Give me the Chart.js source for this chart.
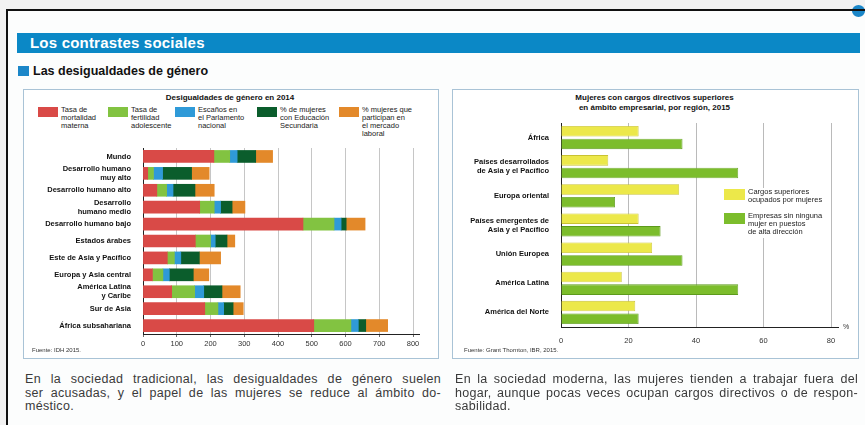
<!DOCTYPE html>
<html lang="es">
<head>
<meta charset="utf-8">
<title>Los contrastes sociales</title>
<script src="https://cdn.jsdelivr.net/npm/chart.js@4/dist/chart.umd.min.js"></script>
<style>
  html, body { margin: 0; padding: 0; }
  body { width: 865px; height: 425px; background: #f2f2f2; position: relative; overflow: hidden;
         font-family: "Liberation Sans", Arial, sans-serif; }
  .page { position: absolute; left: 6px; top: 9px; width: 900px; height: 440px; background: #fcfdfd; }
  .frame { position: absolute; left: 6px; top: 9px; width: 900px; height: 440px; border: 2px solid #111; z-index: 5; }
  .dot { position: absolute; left: 852px; top: 5px; width: 13px; height: 12px; border-radius: 50%; background: #1b86c8; }
  .banner { position: absolute; left: 17px; top: 33px; width: 843px; height: 20px; background: #0b88c6; }
  .banner span { position: absolute; left: 13px; top: 1px; color: #fff; font-size: 15px; font-weight: bold;
                 font-family: "Liberation Sans Narrow", "Liberation Sans", sans-serif; letter-spacing: 0.2px; }
  .sub { position: absolute; left: 18px; top: 64px; font-size: 12.5px; font-weight: bold; color: #111; }
  .sub i { display: inline-block; width: 11px; height: 10px; background: #1b86c8; margin-right: 4px; vertical-align: -1px; }
  .box { position: absolute; top: 89px; height: 268px; border: 1px solid #a9c3d6; background: #fff; }
  .chart { position: absolute; }
  .title { position: absolute; font-size: 8px; font-weight: bold; color: #111; text-align: center; line-height: 10px; }
  .leg { position: absolute; font-size: 7.5px; line-height: 8px; color: #222; }
  .leg i { position: absolute; left: 0; top: 1px; }
  .leg span { position: absolute; white-space: nowrap; }
  .src { position: absolute; font-size: 6px; color: #333; }
  .txt { position: absolute; top: 373px; font-size: 12.5px; line-height: 13.5px; color: #3a3a3a; letter-spacing: 0.3px; }
  .txt span { display: block; text-align: justify; text-align-last: justify; white-space: nowrap; }
  .txt span.last { text-align-last: left; }
</style>
</head>
<body>
<div class="page"></div>
<div class="dot"></div>
<div class="frame"></div>
<div class="banner"><span>Los contrastes sociales</span></div>
<div class="sub"><i></i>Las desigualdades de género</div>

<div class="box" style="left:23px; width:414px;"></div>
<div class="box" style="left:452px; width:405px;"></div>

<div class="title" style="left:23px; width:414px; top:93px;">Desigualdades de género en 2014</div>
<div id="legLeft"></div>
<div class="chart" style="left:24px; top:138px; width:413px; height:220px;"><canvas id="gender"></canvas></div>
<div class="src" style="left:32px; top:347px;">Fuente: IDH 2015.</div>

<div class="title" style="left:452px; width:405px; top:93px;">Mujeres con cargos directivos superiores<br>en ámbito empresarial, por región, 2015</div>
<div class="chart" style="left:453px; top:112px; width:404px; height:246px;"><canvas id="business"></canvas></div>
<div id="legRight"></div>
<div class="src" style="left:464px; top:347px;">Fuente: Grant Thornton, IBR, 2015.</div>
<div class="src" style="left:843px; top:323px; font-size:7px;">%</div>

<div class="txt" style="left:25px; width:416px;">
  <span>En la sociedad tradicional, las desigualdades de género suelen</span>
  <span>ser acusadas, y el papel de las mujeres se reduce al ámbito do-</span>
  <span class="last">méstico.</span>
</div>
<div class="txt" style="left:455px; width:403px;">
  <span>En la sociedad moderna, las mujeres tienden a trabajar fuera del</span>
  <span>hogar, aunque pocas veces ocupan cargos directivos o de respon-</span>
  <span class="last">sabilidad.</span>
</div>

<script>
// Datos: Desigualdades de género en 2014 (IDH 2015)
const regions = [
  'Mundo',
  ['Desarrollo humano', 'muy alto'],
  'Desarrollo humano alto',
  ['Desarrollo', 'humano medio'],
  'Desarrollo humano bajo',
  'Estados árabes',
  'Este de Asia y Pacífico',
  'Europa y Asia central',
  ['América Latina', 'y Caribe'],
  'Sur de Asia',
  'África subsahariana'
];
const maternalMortality  = [210, 14, 41, 168, 474, 155, 72, 28, 85, 183, 506];
const adolescentFertility = [47, 17, 29, 43, 92, 45, 21, 31, 68, 39, 110];
const parliamentSeats    = [22, 27, 19, 19, 21, 14, 19, 19, 27, 17, 22];
const secondaryEducation = [55, 86, 65, 34, 15, 35, 55, 71, 54, 28, 22];
const labourMarket       = [50, 52, 57, 38, 56, 23, 63, 46, 54, 30, 65];
const genderTicks = [0, 100, 200, 300, 400, 500, 600, 700, 800];

const genderLabels = [
  ['Tasa de', 'mortalidad', 'materna'],
  ['Tasa de', 'fertilidad', 'adolescente'],
  ['Escaños en', 'el Parlamento', 'nacional'],
  ['% de mujeres', 'con Educación', 'Secundaria'],
  ['% mujeres que', 'participan en', 'el mercado', 'laboral']
];

// Datos: Mujeres con cargos directivos (Grant Thornton, IBR 2015)
const businessRegions = [
  'África',
  ['Países desarrollados', 'de Asia y el Pacífico'],
  'Europa oriental',
  ['Países emergentes de', 'Asia y el Pacífico'],
  'Unión Europea',
  'América Latina',
  'América del Norte'
];
const seniorRoles = [23, 14, 35, 23, 27, 18, 22];
const noWomenFirms = [36, 52.5, 16, 29.5, 36, 52.5, 23];
const businessTicks = [0, 20, 40, 60, 80];
const businessLabels = [
  ['Cargos superiores', 'ocupados por mujeres'],
  ['Empresas sin ninguna', 'mujer en puestos', 'de alta dirección']
];

const COLORS = {
  red:    '#d94a47',
  lime:   '#82c341',
  blue:   '#2f9ad8',
  dark:   '#0b5d2c',
  orange: '#e3892a',
  yellow: '#ece84a',
  green:  '#7cbd2c'
};
const FONT = "'Liberation Sans', Arial, sans-serif";

// Prolonga la línea del eje X un poco a la derecha
const axisTail = {
  id: 'axisTail',
  afterDraw(chart, args, opts) {
    const { ctx, chartArea } = chart;
    ctx.save();
    ctx.strokeStyle = '#222';
    ctx.lineWidth = 1;
    ctx.beginPath();
    ctx.moveTo(chartArea.right, chartArea.bottom + 0.5);
    ctx.lineTo(chartArea.right + opts.length, chartArea.bottom + 0.5);
    ctx.stroke();
    ctx.restore();
  }
};

function makeLegend(id, labels, colors, positions) {
  const el = document.getElementById(id);
  labels.forEach((lines, i) => {
    const p = positions[i];
    const d = document.createElement('div');
    d.className = 'leg';
    d.style.left = p.x + 'px';
    d.style.top = p.y + 'px';
    d.innerHTML = '<i style="background:' + colors[i] + ';width:' + p.w + 'px;height:' + p.h + 'px"></i>' +
      '<span style="left:' + (p.w + 3) + 'px;top:0">' + lines.join('<br>') + '</span>';
    el.appendChild(d);
  });
}

makeLegend('legLeft', genderLabels,
  [COLORS.red, COLORS.lime, COLORS.blue, COLORS.dark, COLORS.orange],
  [{ x: 38, y: 106, w: 20, h: 10 }, { x: 108, y: 106, w: 20, h: 10 }, { x: 175, y: 106, w: 20, h: 10 },
   { x: 257, y: 106, w: 20, h: 10 }, { x: 339, y: 106, w: 20, h: 10 }]);

const tickFont = { family: FONT, size: 7.5 };
const catFont = { family: FONT, size: 7.5, weight: 'bold' };

new Chart(document.getElementById('gender'), {
  type: 'bar',
  data: {
    labels: regions,
    datasets: [
      { label: 'Tasa de mortalidad materna', data: maternalMortality, backgroundColor: COLORS.red },
      { label: 'Tasa de fertilidad adolescente', data: adolescentFertility, backgroundColor: COLORS.lime },
      { label: 'Escaños en el Parlamento nacional', data: parliamentSeats, backgroundColor: COLORS.blue },
      { label: '% de mujeres con Educación Secundaria', data: secondaryEducation, backgroundColor: COLORS.dark },
      { label: '% mujeres que participan en el mercado laboral', data: labourMarket, backgroundColor: COLORS.orange }
    ]
  },
  options: {
    indexAxis: 'y',
    responsive: true,
    maintainAspectRatio: false,
    animation: false,
    layout: { padding: { top: 10, right: 24, bottom: 4, left: 0 } },
    datasets: { bar: { barThickness: 12, borderWidth: 0 } },
    plugins: { legend: { display: false }, tooltip: { enabled: false }, axisTail: { length: 7 } },
    scales: {
      x: {
        stacked: true,
        min: 0, max: 800,
        afterBuildTicks: ax => { ax.ticks = genderTicks.map(v => ({ value: v })); },
        afterFit: ax => { ax.height = 20; },
        ticks: { color: '#333', font: tickFont, padding: 2 },
        grid: { color: '#b8b8b8', lineWidth: 0.8, tickLength: 3, tickColor: '#444' },
        border: { color: '#222', width: 1 }
      },
      y: {
        stacked: true,
        afterFit: ax => { ax.width = 119; },
        ticks: { color: '#111', font: catFont, padding: 4, autoSkip: false },
        grid: { display: false },
        border: { color: '#222', width: 1 }
      }
    }
  },
  plugins: [axisTail]
});

new Chart(document.getElementById('business'), {
  type: 'bar',
  data: {
    labels: businessRegions,
    datasets: [
      { label: 'Cargos superiores ocupados por mujeres', data: seniorRoles,
        backgroundColor: COLORS.yellow, borderColor: '#c9c232', borderWidth: 0.8 },
      { label: 'Empresas sin ninguna mujer en puestos de alta dirección', data: noWomenFirms,
        backgroundColor: COLORS.green, borderColor: '#5c9a1c', borderWidth: 0.8 }
    ]
  },
  options: {
    indexAxis: 'y',
    responsive: true,
    maintainAspectRatio: false,
    animation: false,
    layout: { padding: { top: 11, right: 26, bottom: 11, left: 0 } },
    datasets: { bar: { categoryPercentage: 0.87, barPercentage: 0.83 } },
    plugins: { legend: { display: false }, tooltip: { enabled: false }, axisTail: { length: 8 } },
    scales: {
      x: {
        min: 0, max: 80,
        afterBuildTicks: ax => { ax.ticks = businessTicks.map(v => ({ value: v })); },
        afterFit: ax => { ax.height = 20; },
        ticks: { color: '#333', font: tickFont, padding: 9 },
        grid: { color: '#a8a8a8', lineWidth: 0.8, drawTicks: false },
        border: { color: '#222', width: 1 }
      },
      y: {
        afterFit: ax => { ax.width = 108; },
        ticks: { color: '#111', font: catFont, padding: 4, autoSkip: false },
        grid: { display: false },
        border: { color: '#222', width: 1 }
      }
    }
  },
  plugins: [axisTail]
});

makeLegend('legRight', businessLabels, [COLORS.yellow, COLORS.green],
  [{ x: 724, y: 188, w: 21, h: 11 }, { x: 724, y: 212, w: 21, h: 11 }]);
document.querySelectorAll('#legRight .leg').forEach(d => {
  d.style.background = '#fff';
  d.style.width = '105px';
  d.style.height = '26px';
});
</script>
</body>
</html>
